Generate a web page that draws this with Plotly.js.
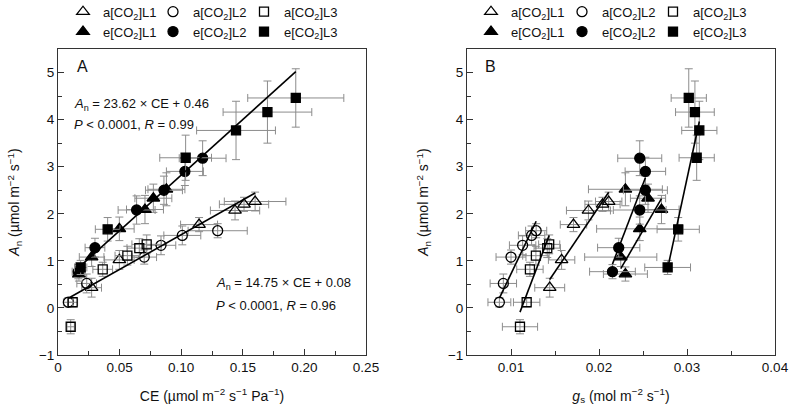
<!DOCTYPE html>
<html>
<head>
<meta charset="utf-8">
<script src="https://cdn.plot.ly/plotly-3.0.1.min.js"></script>
<style>html,body{margin:0;padding:0;background:#fff;}#chart{width:789px;height:407px;}</style>
</head>
<body>
<div id="chart"></div>
<script>
// ---------- data ----------
var seriesNames = ["a[CO<sub>2</sub>]L1", "a[CO<sub>2</sub>]L2", "a[CO<sub>2</sub>]L3",
                   "e[CO<sub>2</sub>]L1", "e[CO<sub>2</sub>]L2", "e[CO<sub>2</sub>]L3"];

// net photosynthesis An (umol m-2 s-1), shared by both panels
var aL1_An = [0.43, 1.02, 1.77, 2.07, 2.20, 2.26];
var aL2_An = [0.12, 0.52, 1.08, 1.33, 1.54, 1.64];
var aL3_An = [-0.40, 0.12, 0.82, 1.11, 1.27, 1.35];
var eL1_An = [0.72, 1.08, 1.68, 2.09, 2.33, 2.52];
var eL2_An = [0.77, 1.28, 2.08, 2.50, 2.90, 3.18];
var eL3_An = [0.86, 1.67, 3.19, 3.77, 4.16, 4.46];
var aL1_AnErr = [0.20, 0.20, 0.15, 0.20, 0.15, 0.20];
var aL2_AnErr = [0.10, 0.20, 0.15, 0.20, 0.20, 0.15];
var aL3_AnErr = [0.15, 0.10, 0.15, 0.20, 0.20, 0.20];
var eL1_AnErr = [0.15, 0.20, 0.25, 0.30, 0.30, 0.35];
var eL2_AnErr = [0.15, 0.20, 0.30, 0.30, 0.30, 0.37];
var eL3_AnErr = [0.15, 0.25, 0.48, 0.62, 0.66, 0.62];

// panel A: carboxylation efficiency CE
var aL1_CE = [0.0273, 0.0498, 0.1145, 0.1437, 0.151, 0.160];
var aL2_CE = [0.0084, 0.0233, 0.070, 0.0836, 0.1009, 0.1296];
var aL3_CE = [0.0103, 0.0119, 0.0363, 0.0563, 0.066, 0.072];
var eL1_CE = [0.017, 0.0273, 0.0498, 0.0706, 0.0774, 0.088];
var eL2_CE = [0.0165, 0.030, 0.0638, 0.086, 0.103, 0.1174];
var eL3_CE = [0.0184, 0.0403, 0.1036, 0.1445, 0.170, 0.193];
var aL1_CEErr = [0.008, 0.012, 0.015, 0.020, 0.020, 0.025];
var aL2_CEErr = [0.004, 0.008, 0.010, 0.012, 0.015, 0.024];
var aL3_CEErr = [0.003, 0.004, 0.008, 0.010, 0.010, 0.012];
var eL1_CEErr = [0.005, 0.010, 0.012, 0.015, 0.015, 0.015];
var eL2_CEErr = [0.005, 0.008, 0.015, 0.015, 0.015, 0.019];
var eL3_CEErr = [0.005, 0.010, 0.021, 0.032, 0.036, 0.039];

// panel B: stomatal conductance gs
var aL1_gs = [0.0144, 0.01575, 0.0171, 0.0188, 0.0204, 0.0211];
var aL2_gs = [0.00868, 0.00913, 0.0100, 0.01132, 0.01234, 0.01286];
var aL3_gs = [0.01102, 0.01178, 0.01215, 0.01283, 0.01412, 0.01434];
var eL1_gs = [0.0230, 0.02247, 0.02463, 0.0271, 0.02557, 0.0230];
var eL2_gs = [0.02153, 0.02224, 0.02463, 0.02527, 0.02527, 0.02463];
var eL3_gs = [0.0278, 0.0290, 0.0311, 0.0314, 0.0309, 0.0302];
var aL1_gsErr = [0.0017, 0.0015, 0.0015, 0.0025, 0.0020, 0.0015];
var aL2_gsErr = [0.0013, 0.0015, 0.0017, 0.0015, 0.0015, 0.0012];
var aL3_gsErr = [0.0020, 0.0015, 0.0015, 0.0015, 0.0015, 0.0012];
var eL1_gsErr = [0.0025, 0.0041, 0.0049, 0.0020, 0.0020, 0.0042];
var eL2_gsErr = [0.0026, 0.0024, 0.0030, 0.0025, 0.0023, 0.0025];
var eL3_gsErr = [0.0026, 0.0024, 0.0020, 0.0020, 0.0022, 0.0020];

// regressions
var ceFitSlope = [14.75, 23.62];      // ambient pooled, elevated pooled
var ceFitIntercept = [0.08, 0.46];
var gsFitSlope = [276.9, 390.4, 491.0, 320.9, 490.7, 866.7];
var gsFitIntercept = [-3.385, -3.179, -5.50, -6.376, -9.635, -23.254];

var xTickVals = [0, 0.05, 0.10, 0.15, 0.20, 0.25];
var xTickText = ["0", "0.05", "0.10", "0.15", "0.20", "0.25"];

// ---------- build ----------
var W = 789, H = 407;
function px(x) { return x / W; }
function py(y) { return 1 - y / H; }

var An = [aL1_An, aL2_An, aL3_An, eL1_An, eL2_An, eL3_An];
var AnErr = [aL1_AnErr, aL2_AnErr, aL3_AnErr, eL1_AnErr, eL2_AnErr, eL3_AnErr];
var CE = [aL1_CE, aL2_CE, aL3_CE, eL1_CE, eL2_CE, eL3_CE];
var CEErr = [aL1_CEErr, aL2_CEErr, aL3_CEErr, eL1_CEErr, eL2_CEErr, eL3_CEErr];
var GS = [aL1_gs, aL2_gs, aL3_gs, eL1_gs, eL2_gs, eL3_gs];
var GSErr = [aL1_gsErr, aL2_gsErr, aL3_gsErr, eL1_gsErr, eL2_gsErr, eL3_gsErr];

var symbols = ["triangle-up-open", "circle-open", "square-open", "triangle-up", "circle", "square"];
var sizes = [11, 10, 9, 11, 10, 9];
var errColor = "#8c8c8c";
var legendIdsA = ["legend", "legend2", "legend3"];
var legendIdsB = ["legend4", "legend5", "legend6"];

var traces = [];
function markerTrace(xs, xerr, i, xa, ya, legendId, panel) {
  return {
    type: "scatter", mode: "markers", x: xs, y: An[i], xaxis: xa, yaxis: ya,
    name: seriesNames[i], legend: legendId, legendgroup: panel + i,
    marker: {symbol: symbols[i], size: sizes[i], color: "#000", line: {color: "#000", width: 1.3}},
    error_x: {type: "data", array: xerr, visible: true, color: errColor, thickness: 1, width: 4},
    error_y: {type: "data", array: AnErr[i], visible: true, color: errColor, thickness: 1, width: 4},
    cliponaxis: false
  };
}
for (var i = 0; i < 6; i++) {
  traces.push(markerTrace(CE[i], CEErr[i], i, "x", "y", legendIdsA[i % 3], "A"));
}
for (var i = 0; i < 6; i++) {
  traces.push(markerTrace(GS[i], GSErr[i], i, "x2", "y2", legendIdsB[i % 3], "B"));
}
// panel A pooled fits
for (var g = 0; g < 2; g++) {
  var pooled = CE[3 * g].concat(CE[3 * g + 1], CE[3 * g + 2]);
  var x0 = Math.min.apply(null, pooled), x1 = Math.max.apply(null, pooled);
  traces.push({type: "scatter", mode: "lines", x: [x0, x1],
    y: [ceFitSlope[g] * x0 + ceFitIntercept[g], ceFitSlope[g] * x1 + ceFitIntercept[g]],
    xaxis: "x", yaxis: "y", showlegend: false, line: {color: "#000", width: 1.6}});
}
// panel B per-series fits
for (var i = 0; i < 6; i++) {
  var x0 = Math.min.apply(null, GS[i]), x1 = Math.max.apply(null, GS[i]);
  traces.push({type: "scatter", mode: "lines", x: [x0, x1],
    y: [gsFitSlope[i] * x0 + gsFitIntercept[i], gsFitSlope[i] * x1 + gsFitIntercept[i]],
    xaxis: "x2", yaxis: "y2", showlegend: false, line: {color: "#000", width: 1.6}});
}

var FONT = "Liberation Sans, Arial, Helvetica, sans-serif";
var lineCol = "#333";
var tickFont = {family: FONT, size: 13.5, color: "#111"};
var titleFont = {family: FONT, size: 14, color: "#111"};
function yAxis(anchor) {
  return {
    anchor: anchor, domain: [py(355), py(49)], range: [-1, 5.5],
    tick0: 0, dtick: 1, ticks: "inside", ticklen: 6, tickwidth: 1, tickcolor: lineCol,
    minor: {dtick: 0.5, tick0: 0, ticks: "inside", ticklen: 4, tickwidth: 1, tickcolor: lineCol},
    showline: true, linecolor: lineCol, linewidth: 1, mirror: true,
    showgrid: false, zeroline: false,
    tickfont: tickFont,
    title: {text: "<i>A</i><sub>n</sub> (µmol m<sup>−2</sup> s<sup>−1</sup>)",
            font: titleFont, standoff: 15}
  };
}
var legendBase = {
  orientation: "v", xanchor: "left", yanchor: "middle",
  traceorder: "grouped", tracegroupgap: 0,
  font: {family: FONT, size: 13, color: "#111"},
  bgcolor: "rgba(0,0,0,0)", borderwidth: 0, itemclick: false, itemdoubleclick: false
};
function leg(x, y) { return Object.assign({}, legendBase, {x: px(x), y: py(y)}); }
var legRowMid = 21.75;

function note(text, x, y, xanchor, size) {
  return {text: text, x: px(x), y: py(y), xref: "paper", yref: "paper", showarrow: false,
          xanchor: xanchor, yanchor: "middle", font: {family: FONT, size: size, color: "#111"}};
}

var layout = {
  width: W, height: H,
  margin: {l: 0, r: 0, t: 0, b: 0, autoexpand: false},
  paper_bgcolor: "#fff", plot_bgcolor: "#fff",
  font: {family: FONT, size: 13, color: "#111"},
  showlegend: true,
  legend: leg(63, legRowMid), legend2: leg(153, legRowMid), legend3: leg(244, legRowMid),
  legend4: leg(471, legRowMid), legend5: leg(562, legRowMid), legend6: leg(653, legRowMid),
  xaxis: {
    anchor: "y", domain: [px(58), px(366)], range: [0, 0.25],
    tickmode: "array", tickvals: xTickVals, ticktext: xTickText,
    ticks: "inside", ticklen: 6, tickwidth: 1, tickcolor: lineCol,
    minor: {dtick: 0.025, tick0: 0, ticks: "inside", ticklen: 4, tickwidth: 1, tickcolor: lineCol},
    showline: true, linecolor: lineCol, linewidth: 1, mirror: true,
    showgrid: false, zeroline: false,
    tickfont: tickFont,
    title: {text: "CE (µmol m<sup>−2</sup> s<sup>−1</sup> Pa<sup>−1</sup>)",
            font: titleFont, standoff: 16}
  },
  yaxis: yAxis("x"),
  xaxis2: {
    anchor: "y2", domain: [px(467), px(775)], range: [0.005, 0.04],
    tick0: 0, dtick: 0.01,
    ticks: "inside", ticklen: 6, tickwidth: 1, tickcolor: lineCol,
    minor: {dtick: 0.005, tick0: 0, ticks: "inside", ticklen: 4, tickwidth: 1, tickcolor: lineCol},
    showline: true, linecolor: lineCol, linewidth: 1, mirror: true,
    showgrid: false, zeroline: false,
    tickfont: tickFont,
    title: {text: "<i>g</i><sub>s</sub> (mol m<sup>−2</sup> s<sup>−1</sup>)",
            font: titleFont, standoff: 16}
  },
  yaxis2: yAxis("x2"),
  annotations: [
    note("A", 82, 67, "center", 16),
    note("B", 490, 66, "center", 16),
    note("<i>A</i><sub>n</sub> = 23.62 × CE + 0.46", 72, 104, "left", 13),
    note("<i>P</i> < 0.0001, <i>R</i> = 0.99", 72, 124, "left", 13),
    note("<i>A</i><sub>n</sub> = 14.75 × CE + 0.08", 214, 283, "left", 13),
    note("<i>P</i> < 0.0001, <i>R</i> = 0.96", 214, 305, "left", 13)
  ]
};

Plotly.newPlot("chart", traces, layout, {displayModeBar: false, staticPlot: true});
</script>
</body>
</html>
